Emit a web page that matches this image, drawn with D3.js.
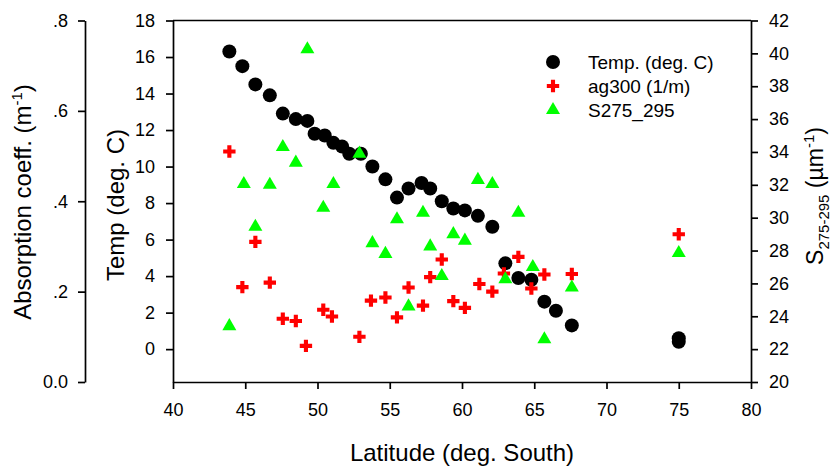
<!DOCTYPE html>
<html>
<head>
<meta charset="utf-8">
<script src="https://cdn.jsdelivr.net/npm/d3@7"></script>
<style>
  body { margin: 0; background: #fff; }
  svg text { font-family: "Liberation Sans", Arial, sans-serif; fill: #000; }
</style>
</head>
<body>
<div id="chart"></div>
<script>
// Temperature (deg. C) by latitude
const tempLat = [43.9, 44.8, 45.7, 46.7, 47.6, 48.5, 49.3, 49.8, 50.5, 51.1, 51.7, 52.2, 53.0, 53.8, 54.7, 55.5,
  56.3, 57.2, 57.8, 58.6, 59.4, 60.2, 61.1, 62.1, 63.0, 63.9, 64.8, 65.7, 66.5, 67.6, 75.0, 75.0];
const tempVal = [16.3, 15.5, 14.5, 13.9, 12.9, 12.6, 12.5, 11.8, 11.7, 11.3, 11.1, 10.7, 10.7, 10.0, 9.3, 8.3,
  8.8, 9.1, 8.8, 8.1, 7.7, 7.6, 7.3, 6.7, 4.7, 3.9, 3.8, 2.6, 2.1, 1.3, 0.6, 0.4];

// ag300 (1/m)
const agLat = [43.9, 44.8, 45.7, 46.7, 47.6, 48.5, 49.2, 50.4, 51.0, 52.9, 53.7, 54.7, 55.5, 56.3, 57.3, 57.8,
  58.6, 59.4, 60.2, 61.2, 62.1, 62.9, 63.9, 64.8, 65.7, 67.6, 75.0];
const agVal = [0.51, 0.21, 0.31, 0.22, 0.14, 0.135, 0.08, 0.16, 0.145, 0.10, 0.18, 0.187, 0.143, 0.209, 0.169, 0.232,
  0.271, 0.179, 0.164, 0.217, 0.200, 0.240, 0.277, 0.207, 0.238, 0.239, 0.327];

// S275_295 (um-1)
const sLat = [43.9, 44.9, 45.7, 46.7, 47.6, 48.5, 49.3, 50.4, 51.1, 52.9, 53.8, 54.7, 55.5, 56.3, 57.3, 57.8,
  58.6, 59.4, 60.2, 61.1, 62.1, 63.0, 63.9, 64.9, 65.7, 67.6, 75.0];
const sVal = [23.4, 32.05, 29.45, 32.0, 34.3, 33.35, 40.25, 30.6, 32.05, 33.9, 28.45, 27.8, 29.9, 24.6, 30.3, 28.25,
  26.45, 29.0, 28.6, 32.3, 32.05, 26.25, 30.3, 27.0, 22.6, 25.75, 27.85];

const xTicks = [40, 45, 50, 55, 60, 65, 70, 75, 80];
const tempTicks = [0, 2, 4, 6, 8, 10, 12, 14, 16, 18];
const absTicks = [0, 0.2, 0.4, 0.6, 0.8];
const absLabels = ["0.0", ".2", ".4", ".6", ".8"];
const sTicks = [20, 22, 24, 26, 28, 30, 32, 34, 36, 38, 40, 42];
const legendNames = ["Temp. (deg. C)", "ag300 (1/m)", "S275_295"];

const width = 831, height = 466;
const plotLeft = 173, plotRight = 751, plotTop = 20.5, plotBottom = 382;

const svg = d3.select("#chart").append("svg")
  .attr("width", width)
  .attr("height", height);

const x = d3.scaleLinear().domain([40, 80]).range([plotLeft, plotRight]);
const yT = d3.scaleLinear().domain([-1.8, 18]).range([plotBottom, plotTop]);
const yA = d3.scaleLinear().domain([0, 0.8]).range([plotBottom, plotTop]);
const yS = d3.scaleLinear().domain([20, 42]).range([plotBottom, plotTop]);

function styleAxis(g) {
  g.selectAll("path, line").attr("stroke", "#000").attr("stroke-width", 1.7);
  g.selectAll("text").style("font-size", "18px").attr("fill", "#000")
    .style("font-family", "'Liberation Sans', Arial, sans-serif");
}

// top border
svg.append("line")
  .attr("x1", plotLeft).attr("x2", plotRight).attr("y1", plotTop).attr("y2", plotTop)
  .attr("stroke", "#000").attr("stroke-width", 1.7);

// bottom axis
svg.append("g")
  .attr("transform", `translate(0,${plotBottom})`)
  .call(d3.axisBottom(x).tickValues(xTicks).tickSize(7).tickSizeOuter(0).tickPadding(14))
  .call(styleAxis);

// temperature axis
svg.append("g")
  .attr("transform", `translate(${plotLeft},0)`)
  .call(d3.axisLeft(yT).tickValues(tempTicks).tickSize(7).tickSizeOuter(0).tickPadding(11))
  .call(styleAxis);

// absorption axis (offset)
svg.append("g")
  .attr("transform", "translate(85,0)")
  .call(d3.axisLeft(yA).tickValues(absTicks).tickSize(7).tickSizeOuter(0).tickPadding(10)
    .tickFormat((d, i) => absLabels[i]))
  .call(styleAxis);

// right S axis
svg.append("g")
  .attr("transform", `translate(${plotRight},0)`)
  .call(d3.axisRight(yS).tickValues(sTicks).tickSize(7).tickSizeOuter(0).tickPadding(11))
  .call(styleAxis);

// axis titles
svg.append("text")
  .attr("x", (plotLeft + plotRight) / 2).attr("y", 461)
  .attr("text-anchor", "middle")
  .style("font-size", "24px")
  .text("Latitude (deg. South)");

svg.append("text")
  .attr("transform", "translate(124,205) rotate(-90)")
  .attr("text-anchor", "middle")
  .style("font-size", "24px")
  .text("Temp (deg. C)");

const absTitle = svg.append("text")
  .attr("transform", "translate(31,202) rotate(-90)")
  .attr("text-anchor", "middle")
  .style("font-size", "24px");
absTitle.append("tspan").text("Absorption coeff. (m");
absTitle.append("tspan").attr("dy", -9).style("font-size", "15px").text("-1");
absTitle.append("tspan").attr("dy", 9).text(")");

const sTitle = svg.append("text")
  .attr("transform", "translate(823,196) rotate(-90)")
  .attr("text-anchor", "middle")
  .style("font-size", "23px");
sTitle.append("tspan").text("S");
sTitle.append("tspan").attr("dy", 6).style("font-size", "15px").text("275-295");
sTitle.append("tspan").attr("dy", -6).text(" (\u00b5m");
sTitle.append("tspan").attr("dy", -9).style("font-size", "15px").text("-1");
sTitle.append("tspan").attr("dy", 9).text(")");

// markers
const crossPath = d3.symbol(d3.symbolCross, 85)();
const triPath = d3.symbol(d3.symbolTriangle, 85)();

svg.append("g").selectAll("circle")
  .data(tempLat.map((d, i) => [d, tempVal[i]]))
  .join("circle")
  .attr("cx", d => x(d[0]))
  .attr("cy", d => yT(d[1]))
  .attr("r", 7)
  .attr("fill", "#000");

svg.append("g").selectAll("path")
  .data(agLat.map((d, i) => [d, agVal[i]]))
  .join("path")
  .attr("d", crossPath)
  .attr("transform", d => `translate(${x(d[0])},${yA(d[1])})`)
  .attr("fill", "#ff0000");

svg.append("g").selectAll("path")
  .data(sLat.map((d, i) => [d, sVal[i]]))
  .join("path")
  .attr("d", triPath)
  .attr("transform", d => `translate(${x(d[0])},${yS(d[1])})`)
  .attr("fill", "#00ff00");

// legend
const legend = svg.append("g").attr("transform", "translate(553,62)");
legendNames.forEach((name, i) => {
  const row = legend.append("g").attr("transform", `translate(0,${i * 24})`);
  if (i === 0) row.append("circle").attr("r", 7).attr("fill", "#000");
  if (i === 1) row.append("path").attr("d", crossPath).attr("fill", "#ff0000");
  if (i === 2) row.append("path").attr("d", triPath).attr("fill", "#00ff00");
  row.append("text")
    .attr("x", 35).attr("dy", "0.36em")
    .style("font-size", "19px")
    .text(name);
});
</script>
</body>
</html>
